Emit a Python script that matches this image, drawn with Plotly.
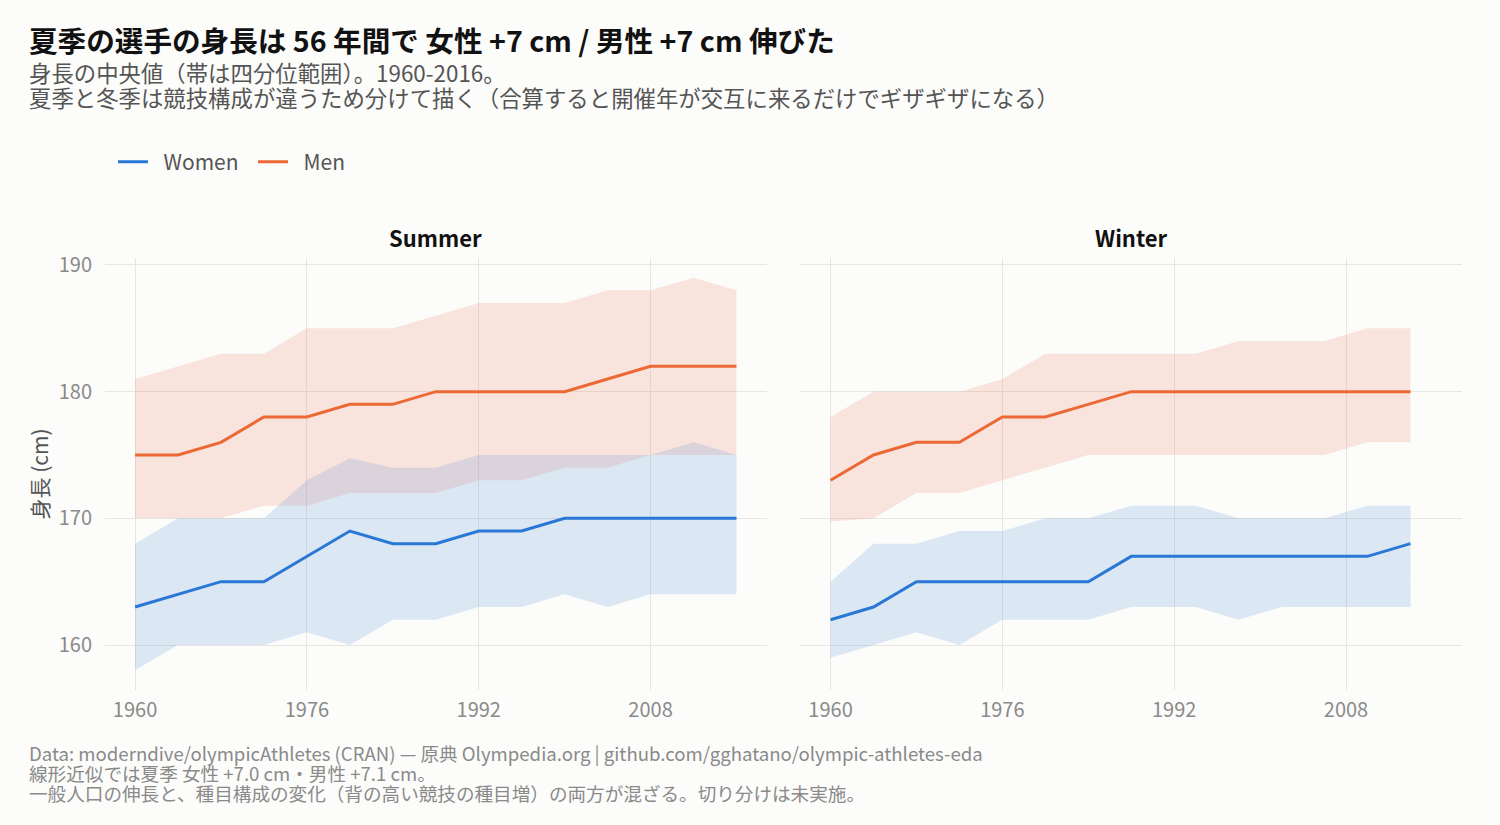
"""
Olympic athlete height: median with IQR band, Summer vs Winter
"""

import plotly.graph_objs as go
from plotly.subplots import make_subplots

# ---- data ----
summer_years = [1960, 1964, 1968, 1972, 1976, 1980, 1984, 1988, 1992, 1996,
                2000, 2004, 2008, 2012, 2016]
summer_women_med = [163, 164, 165, 165, 167, 169, 168, 168, 169, 169,
                    170, 170, 170, 170, 170]
summer_women_q1 = [158, 160, 160, 160, 161, 160, 162, 162, 163, 163,
                   164, 163, 164, 164, 164]
summer_women_q3 = [168, 170, 170, 170, 173, 174.75, 174, 174, 175, 175,
                   175, 175, 175, 176, 175]
summer_men_med = [175, 175, 176, 178, 178, 179, 179, 180, 180, 180,
                  180, 181, 182, 182, 182]
summer_men_q1 = [170, 170, 170, 171, 171, 172, 172, 172, 173, 173,
                 174, 174, 175, 175, 175]
summer_men_q3 = [181, 182, 183, 183, 185, 185, 185, 186, 187, 187,
                 187, 188, 188, 189, 188]

winter_years = [1960, 1964, 1968, 1972, 1976, 1980, 1984, 1988, 1992, 1994,
                1998, 2002, 2006, 2010, 2014]
winter_women_med = [162, 163, 165, 165, 165, 165, 165, 167, 167, 167,
                    167, 167, 167, 167, 168]
winter_women_q1 = [159, 160, 161, 160, 162, 162, 162, 163, 163, 163,
                   162, 163, 163, 163, 163]
winter_women_q3 = [165, 168, 168, 169, 169, 170, 170, 171, 171, 171,
                   170, 170, 170, 171, 171]
winter_men_med = [173, 175, 176, 176, 178, 178, 179, 180, 180, 180,
                  180, 180, 180, 180, 180]
winter_men_q1 = [169.75, 170, 172, 172, 173, 174, 175, 175, 175, 175,
                 175, 175, 175, 176, 176]
winter_men_q3 = [178, 180, 180, 180, 181, 183, 183, 183, 183, 183,
                 184, 184, 184, 185, 185]

panels = ["Summer", "Winter"]
sexes = ["Women", "Men"]
x_ticks = [1960, 1976, 1992, 2008]
y_ticks = [160, 170, 180, 190]

TITLE = "夏季の選手の身長は 56 年間で 女性 +7 cm / 男性 +7 cm 伸びた"
SUBTITLE = ["身長の中央値（帯は四分位範囲）。1960-2016。",
            "夏季と冬季は競技構成が違うため分けて描く（合算すると開催年が交互に来るだけでギザギザになる）"]
CAPTION = ["Data: moderndive/olympicAthletes (CRAN) — 原典 Olympedia.org | "
           "github.com/gghatano/olympic-athletes-eda",
           "線形近似では夏季 女性 +7.0 cm・男性 +7.1 cm。",
           "一般人口の伸長と、種目構成の変化（背の高い競技の種目増）の両方が混ざる。切り分けは未実施。"]

FONT = "Noto Sans CJK JP"
COLORS = {"Women": "#2a78d6", "Men": "#ec6835"}
BANDS = {"Women": "rgba(39,112,217,0.15)", "Men": "rgba(232,92,63,0.15)"}
BG = "#fcfcfa"
GRID = "#e8e6e1"

data = {
    ("Summer", "Women"): (summer_years, summer_women_q1, summer_women_med, summer_women_q3),
    ("Summer", "Men"): (summer_years, summer_men_q1, summer_men_med, summer_men_q3),
    ("Winter", "Women"): (winter_years, winter_women_q1, winter_women_med, winter_women_q3),
    ("Winter", "Men"): (winter_years, winter_men_q1, winter_men_med, winter_men_q3),
}


def main():
    """
    Build the faceted median/IQR chart
    """
    fig = make_subplots(rows=1, cols=2, shared_yaxes=True, horizontal_spacing=0.025)

    for col, panel in enumerate(panels, start=1):
        # bands first (men under women) so the median lines sit on top
        for sex in ["Men", "Women"]:
            years, low, _, high = data[(panel, sex)]
            fig.add_trace(go.Scatter(x=list(years) + list(years)[::-1],
                                     y=list(high) + list(low)[::-1],
                                     fill="toself", fillcolor=BANDS[sex],
                                     line=dict(width=0), mode="lines",
                                     hoverinfo="skip", showlegend=False),
                          row=1, col=col)
        for sex in sexes:
            years, _, med, _ = data[(panel, sex)]
            # en space keeps the legend text a little off the key, as in the original
            fig.add_trace(go.Scatter(x=years, y=med, name="\u2002" + sex, mode="lines",
                                     line=dict(color=COLORS[sex], width=3),
                                     legendgroup=sex, showlegend=(col == 1)),
                          row=1, col=col)

    axis_common = dict(showgrid=True, gridcolor=GRID, gridwidth=1.2, zeroline=False,
                       showline=False, ticks="",
                       tickfont=dict(family=FONT, size=20, color="#8a8a8a"))
    fig.update_xaxes(range=[1957.2, 2018.8], tickvals=x_ticks, ticklabelstandoff=6,
                     **axis_common)
    fig.update_yaxes(range=[156.45, 190.55], tickvals=y_ticks, ticklabelstandoff=12,
                     **axis_common)
    fig.update_yaxes(title_text="身長 (cm)", title_standoff=4,
                     title_font=dict(family=FONT, size=21, color="#555555"),
                     row=1, col=1)

    # plot area in pixels: left 105, right 1462, top 258, bottom 690
    def py(pix):
        return (690 - pix) / 432.0

    def px(pix):
        return (pix - 105) / 1357.0

    anns = [
        dict(text="<b>" + TITLE + "</b>", x=px(27), y=py(39), xanchor="left",
             yanchor="middle", font=dict(family=FONT, size=28.6, color="#111111")),
    ]
    for i, line in enumerate(SUBTITLE):
        anns.append(dict(text=line, x=px(27), y=py(72 + 25 * i), xanchor="left",
                         yanchor="middle",
                         font=dict(family=FONT, size=22.4, color="#555555")))
    for i, line in enumerate(CAPTION):
        anns.append(dict(text=line, x=px(27), y=py(752.5 + 20 * i), xanchor="left",
                         yanchor="middle",
                         font=dict(family=FONT, size=18.6, color="#8a8a8a")))
    for col, panel in enumerate(panels):
        dom = fig.layout["xaxis" if col == 0 else "xaxis2"].domain
        anns.append(dict(text="<b>" + panel + "</b>", x=(dom[0] + dom[1]) / 2,
                         y=py(237), xanchor="center", yanchor="middle",
                         font=dict(family=FONT, size=22, color="#111111")))
    for ann in anns:
        ann.update(xref="paper", yref="paper", showarrow=False)

    fig.update_layout(
        width=1500, height=825,
        margin=dict(l=105, r=38, t=258, b=135),
        paper_bgcolor=BG, plot_bgcolor=BG,
        font=dict(family=FONT, color="#555555"),
        annotations=anns,
        legend=dict(orientation="h", x=px(113), y=py(162), xanchor="left",
                    yanchor="middle", font=dict(family=FONT, size=21, color="#555555"),
                    entrywidth=95, bgcolor="rgba(0,0,0,0)"),
        hovermode=False,
    )

    fig.write_html("out.html", config={"displayModeBar": False},
                   post_script="document.body.style.margin='0';")


if __name__ == '__main__':
    main()
